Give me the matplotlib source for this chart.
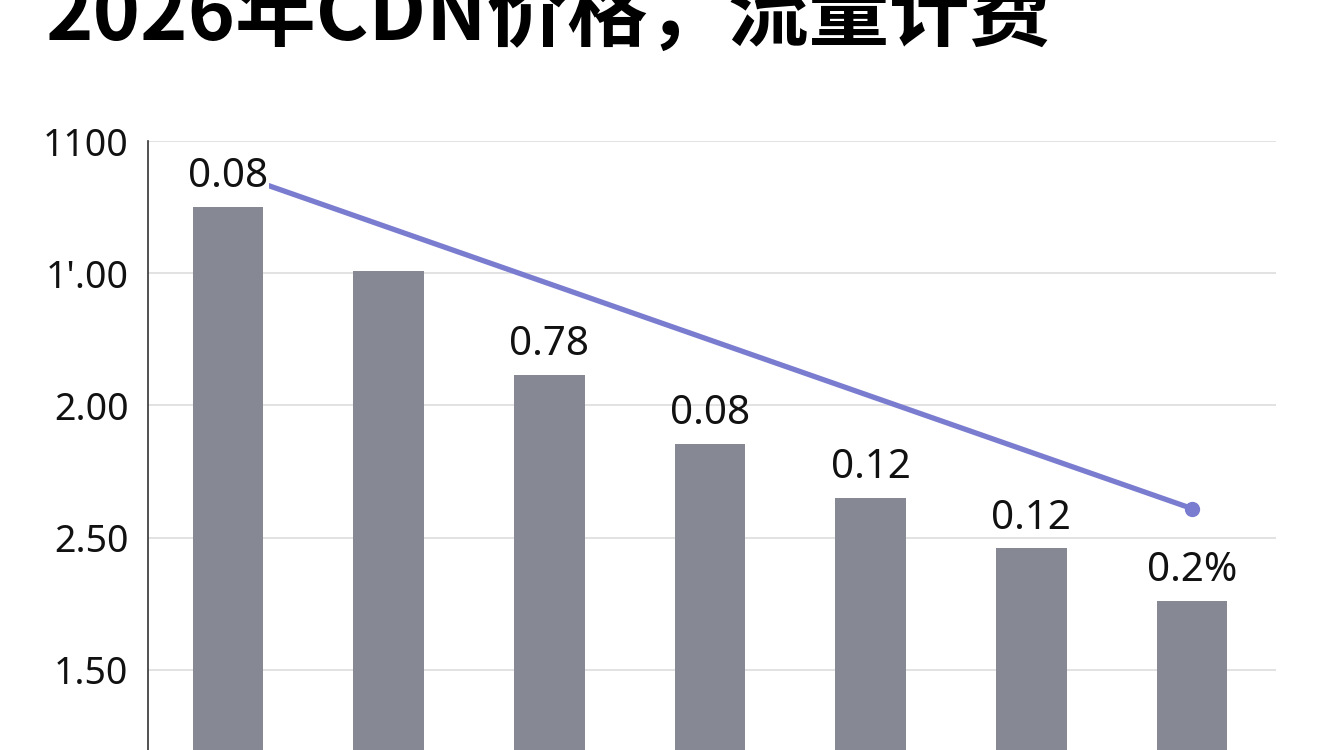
import numpy as np
import matplotlib
matplotlib.use("Agg")
import matplotlib.pyplot as plt

plt.rcParams['font.family'] = ['Noto Sans', 'Noto Sans CJK SC', 'DejaVu Sans']

# values (in grid-step units, bottom tick = 0)
bar_values = [3.50, 3.02, 2.23, 1.71, 1.30, 0.92, 0.52]
bar_labels = ["0.08", "", "0.78", "0.08", "0.12", "0.12", "0.2%"]
bar_base = -1.0
line_x = [0, 6]
line_values = [3.77, 1.22]
tick_pos = [4, 3, 2, 1, 0]
tick_labels = ["1100", "1'.00", "2.00", "2.50", "1.50"]
title = "2026年CDN价格，流量计费"

bar_color = "#868894"
line_color = "#7a7ccf"

fig = plt.figure(figsize=(13.44, 7.5), dpi=100)
ax = fig.add_axes([148 / 1344, 0.0, (1276 - 148) / 1344, (750 - 141) / 750])

x = np.arange(len(bar_values))
heights = [v - bar_base for v in bar_values]
ax.bar(x, heights, bottom=bar_base, width=0.44, color=bar_color, zorder=2)
ax.plot(line_x, line_values, color=line_color, lw=3.8, zorder=3,
        solid_capstyle='round')
ax.plot(line_x[-1], line_values[-1], 'o', color=line_color, ms=10, zorder=3)

for i, (xi, v, lab) in enumerate(zip(x, bar_values, bar_labels)):
    if not lab:
        continue
    # first label sits on top of the line start
    box = dict(facecolor='white', edgecolor='none', pad=0.5) if i == 0 else None
    ax.annotate(lab, (xi, v), xytext=(0, 7), textcoords='offset points',
                ha='center', va='bottom', fontsize=29, color='#111111',
                zorder=5, bbox=box)

ax.set_xlim(-0.498, 6.523)
ax.set_ylim(-0.606, 4.0)
ax.set_yticks(tick_pos)
ax.set_yticklabels(tick_labels, fontsize=27, color='#111111')
ax.tick_params(axis='y', length=0, pad=14)
ax.set_xticks([])
ax.grid(axis='y', color='#dddddd', lw=1.2, zorder=0)
ax.set_axisbelow(True)
for s in ['top', 'right', 'bottom']:
    ax.spines[s].set_visible(False)
ax.spines['left'].set_color('#333333')
ax.spines['left'].set_linewidth(1.2)

fig.text(45 / 1344, 1 - 40 / 750, title, fontsize=58, fontweight='black',
         family=['Noto Sans CJK SC', 'DejaVu Sans'], ha='left', va='baseline')

fig.savefig("out.png", dpi=100, facecolor='white')
